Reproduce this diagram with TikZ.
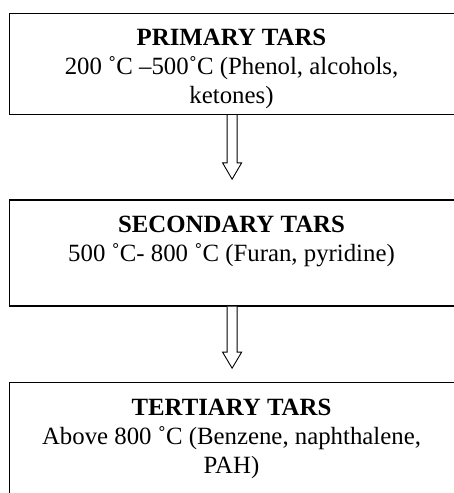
\documentclass[tikz,border=0pt]{standalone}
\usepackage{fontspec}
\setmainfont{Liberation Serif}
\usetikzlibrary{calc}
\tikzset{
  tarbox/.style={draw=black, line width=1.2bp, rectangle, inner sep=0pt, anchor=north west, minimum width=447.5bp},
  txt/.style={inner sep=0pt, anchor=base, font=\fontsize{24.9}{29}\selectfont},
  ttl/.style={txt, font=\fontsize{24.9}{29}\selectfont\bfseries},
  blockarrow/.style={draw=black, line width=0.9bp, fill=white, line join=miter}
}
\begin{document}
\begin{tikzpicture}[x=1bp,y=1bp]
\useasboundingbox (0,0) rectangle (454,493);
% boxes
\node[tarbox, minimum height=101.3bp] (b1) at (8.5,480.3) {};
\node[tarbox, minimum height=106bp] (b2) at (8.5,293.5) {};
\node[tarbox, minimum height=120bp] (b3) at (8.5,111) {};
% texts
\node[ttl] (t1a) at (231.5,447) {PRIMARY TARS};
\node[txt] (t1b) at (231.5,418) {200 ˚C –500˚C (Phenol, alcohols,};
\node[txt] (t1c) at (231.5,389) {ketones)};
\node[ttl] (t2a) at (231.5,260) {SECONDARY TARS};
\node[txt] (t2b) at (231.5,231) {500 ˚C- 800 ˚C (Furan, pyridine)};
\node[ttl] (t3a) at (231.5,77) {TERTIARY TARS};
\node[txt] (t3b) at (231.5,48) {Above 800 ˚C (Benzene, naphthalene,};
\node[txt] (t3c) at (231.5,19) {PAH)};
% block arrows
\coordinate (a1) at ($(b1.south)+(-0.75,0)$);
\coordinate (a2) at ($(b2.south)+(-0.75,0)$);
\draw[blockarrow] ($(a1)+(-5,0)$) -- ($(a1)+(-5,-47.7)$) -- ($(a1)+(-9.5,-47.7)$)
  -- ($(a1)+(0,-64)$) -- ($(a1)+(9.5,-47.7)$) -- ($(a1)+(5,-47.7)$) -- ($(a1)+(5,0)$);
\draw[blockarrow] ($(a2)+(-5,0)$) -- ($(a2)+(-5,-45.5)$) -- ($(a2)+(-9.5,-45.5)$)
  -- ($(a2)+(0,-61.5)$) -- ($(a2)+(9.5,-45.5)$) -- ($(a2)+(5,-45.5)$) -- ($(a2)+(5,0)$);
\end{tikzpicture}
\end{document}
